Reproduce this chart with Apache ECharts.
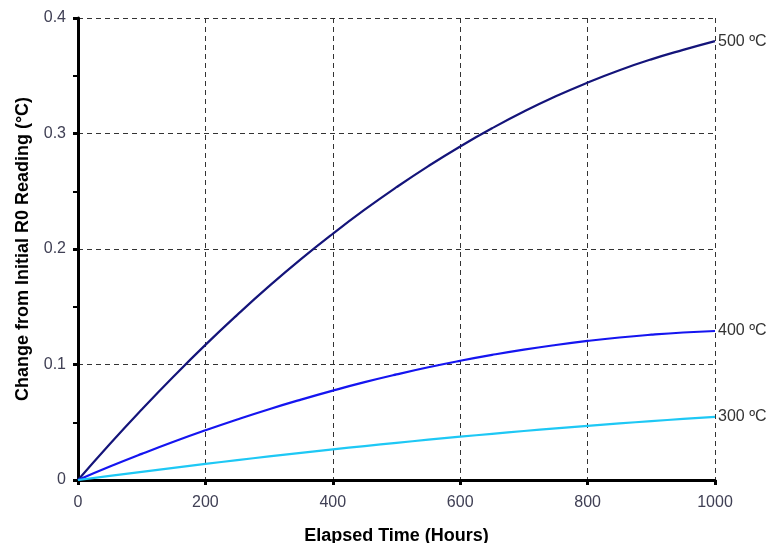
<!DOCTYPE html>
<html><head><meta charset="utf-8">
<script src="https://cdn.jsdelivr.net/npm/echarts@6/dist/echarts.min.js"></script>
<style>html,body{margin:0;padding:0;background:#fff}#c{width:775px;height:543px}</style>
</head><body><div id="c"></div>
<script>
const hours = [0,50,100,150,200,250,300,350,400,450,500,550,600,650,700,750,800,850,900,950,1000];
const s500 = [0,0.0312,0.0610,0.0896,0.1170,0.1430,0.1678,0.1912,0.2132,0.2340,0.2535,0.2718,0.2888,0.3045,0.3190,0.3322,0.3441,0.3548,0.3642,0.3724,0.3800];
const s400 = [0,0.0116,0.0226,0.0331,0.0430,0.0524,0.0613,0.0696,0.0774,0.0847,0.0914,0.0976,0.1032,0.1083,0.1129,0.1169,0.1204,0.1234,0.1258,0.1277,0.1290];
const s300 = [0,0.0036,0.0071,0.0105,0.0139,0.0172,0.0204,0.0235,0.0265,0.0294,0.0322,0.0349,0.0375,0.0400,0.0424,0.0447,0.0469,0.0490,0.0510,0.0529,0.0547];
const seriesNames = ['500 ºC','400 ºC','300 ºC'];
const seriesColors = ['#14147a','#1515f0','#1ec8f5'];
const xTicks = [0,200,400,600,800,1000];
const yTicks = [0,0.1,0.2,0.3,0.4];

const chart = echarts.init(document.getElementById('c'));
const font = 'Liberation Sans, Arial, sans-serif';
function mk(name, data, color){
  return {
    name, type:'line', showSymbol:false, smooth:0.5,
    data: hours.map((h,i)=>[h,data[i]]),
    lineStyle:{color, width:2.2}, itemStyle:{color},
    endLabel:{show:true, formatter:name, color:'#333', fontSize:16, fontFamily:font, distance:3},
    z:3
  };
}
chart.setOption({
  animation:false,
  grid:{left:78, right:60, top:18, bottom:63, containLabel:false, outerBoundsMode:'none'},
  xAxis:{
    type:'value', min:0, max:1000, interval:200,
    name:'Elapsed Time (Hours)', nameLocation:'middle', nameGap:47,
    nameTextStyle:{fontSize:18, fontWeight:'bold', color:'#000', fontFamily:font},
    axisLine:{lineStyle:{color:'#000', width:3}},
    axisTick:{show:true, length:5, lineStyle:{color:'#000', width:3}},
    axisLabel:{color:'#404055', fontSize:16, margin:15, fontFamily:font, formatter:v=>xTicks.includes(v)?String(v):''},
    splitLine:{show:true, lineStyle:{color:'#333', type:[5,4], width:1}}
  },
  yAxis:{
    type:'value', min:0, max:0.4, interval:0.1,
    name:'Change from Initial R0 Reading (°C)', nameLocation:'middle', nameGap:46,
    nameTextStyle:{fontSize:18, fontWeight:'bold', color:'#000', fontFamily:font},
    axisLine:{lineStyle:{color:'#000', width:3}},
    axisTick:{show:true, length:5, lineStyle:{color:'#000', width:3}},
    minorTick:{show:true, splitNumber:2, length:5, lineStyle:{color:'#000', width:2}},
    axisLabel:{color:'#404055', fontSize:16, margin:12, fontFamily:font, formatter:v=>{const t=yTicks.find(y=>Math.abs(y-v)<1e-9);return t===undefined?'':String(t);}},
    splitLine:{show:true, lineStyle:{color:'#333', type:[5,4], width:1}}
  },
  series:[mk(seriesNames[0], s500, seriesColors[0]), mk(seriesNames[1], s400, seriesColors[1]), mk(seriesNames[2], s300, seriesColors[2])]
});
</script></body></html>
